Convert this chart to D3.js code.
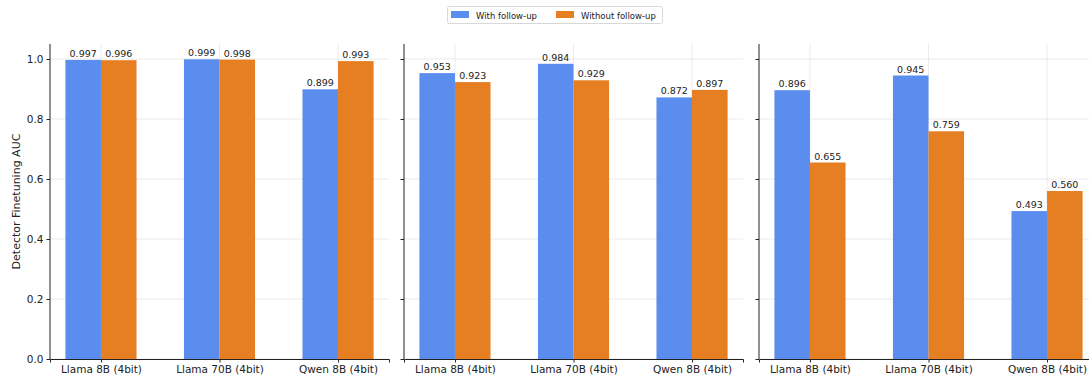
<!DOCTYPE html>
<html><head><meta charset="utf-8">
<script src="https://cdn.jsdelivr.net/npm/d3@7"></script>
<style>body{margin:0;background:#fff;} text{font-family:"DejaVu Sans",sans-serif;}</style>
</head><body>
<svg id="c" width="1089" height="381"></svg>
<script>
const categories = ["Llama 8B (4bit)", "Llama 70B (4bit)", "Qwen 8B (4bit)"];
const seriesNames = ["With follow-up", "Without follow-up"];
const withFollowUp = [
  [0.997, 0.999, 0.899],
  [0.953, 0.984, 0.872],
  [0.896, 0.945, 0.493]
];
const withoutFollowUp = [
  [0.996, 0.998, 0.993],
  [0.923, 0.929, 0.897],
  [0.655, 0.759, 0.560]
];
const yTicks = [0.0, 0.2, 0.4, 0.6, 0.8, 1.0];
const colors = ["#5b8def", "#e67e22"];

(function () {
const svg = d3.select("#c");
const panelLefts = [50, 404, 759];
const panelW = 339;
const plotTop = 44, plotBottom = 359;
const barW = 0.3;

const y = d3.scaleLinear().domain([0, 1.05]).range([plotBottom, plotTop]);

panelLefts.forEach((left, p) => {
  const x = d3.scaleLinear().domain([-0.43, 2.43]).range([left, left + panelW]);
  const g = svg.append("g");
  g.selectAll(".hg").data(yTicks).enter().append("line")
    .attr("x1", left).attr("x2", left + panelW)
    .attr("y1", d => y(d)).attr("y2", d => y(d))
    .attr("stroke", "#e6e6e6").attr("stroke-width", 0.8);
  g.selectAll(".vg").data(categories).enter().append("line")
    .attr("x1", (d, i) => x(i)).attr("x2", (d, i) => x(i))
    .attr("y1", plotTop).attr("y2", plotBottom)
    .attr("stroke", "#e6e6e6").attr("stroke-width", 0.8);
  const series = [withFollowUp[p], withoutFollowUp[p]];
  series.forEach((vals, s) => {
    const off = s === 0 ? -barW / 2 : barW / 2;
    g.selectAll(".b" + s).data(vals).enter().append("rect")
      .attr("x", (d, i) => x(i + off - barW / 2))
      .attr("width", (d, i) => x(i + off + barW / 2) - x(i + off - barW / 2))
      .attr("y", d => y(d)).attr("height", d => y(0) - y(d))
      .attr("fill", colors[s]);
    g.selectAll(".l" + s).data(vals).enter().append("text")
      .attr("x", (d, i) => x(i + off)).attr("y", d => y(d) - 3)
      .attr("text-anchor", "middle").attr("font-size", 9.5).attr("fill", "#222")
      .text(d => d.toFixed(3));
  });
  const xAxis = d3.axisBottom(x).tickValues([0, 1, 2]).tickFormat(i => categories[i]).tickSize(3.5).tickPadding(3);
  const gx = g.append("g").attr("transform", `translate(0,${plotBottom})`).call(xAxis);
  gx.select(".domain").attr("stroke", "#222");
  gx.selectAll(".tick line").attr("stroke", "#222");
  gx.selectAll("text").attr("font-size", 10.5).attr("fill", "#222").attr("font-family", "DejaVu Sans");
  const yAxis = d3.axisLeft(y).tickValues(yTicks).tickSize(3.5).tickPadding(3)
    .tickFormat(p === 0 ? d3.format(".1f") : () => "");
  const gy = g.append("g").attr("transform", `translate(${left},0)`).call(yAxis);
  gy.select(".domain").attr("stroke", "#222").attr("d", `M0,${plotBottom}V${plotTop}`);
  gy.selectAll(".tick line").attr("stroke", "#222");
  gy.selectAll("text").attr("font-size", 10.5).attr("fill", "#222").attr("font-family", "DejaVu Sans");
});

svg.append("text").attr("transform", `translate(20,${(plotTop + plotBottom) / 2}) rotate(-90)`)
  .attr("text-anchor", "middle").attr("font-size", 11).attr("fill", "#222")
  .text("Detector Finetuning AUC");

const lg = svg.append("g");
lg.append("rect").attr("x", 447.5).attr("y", 6.5).attr("width", 215).attr("height", 17)
  .attr("rx", 2).attr("fill", "#fff").attr("stroke", "#d8d8d8");
const legX = [451, 556];
seriesNames.forEach((n, i) => {
  lg.append("rect").attr("x", legX[i]).attr("y", 11).attr("width", 18).attr("height", 7).attr("fill", colors[i]);
  lg.append("text").attr("x", legX[i] + 25).attr("y", 18.5).attr("font-size", 8.5).attr("fill", "#222").text(n);
});
})();
</script>
</body></html>
